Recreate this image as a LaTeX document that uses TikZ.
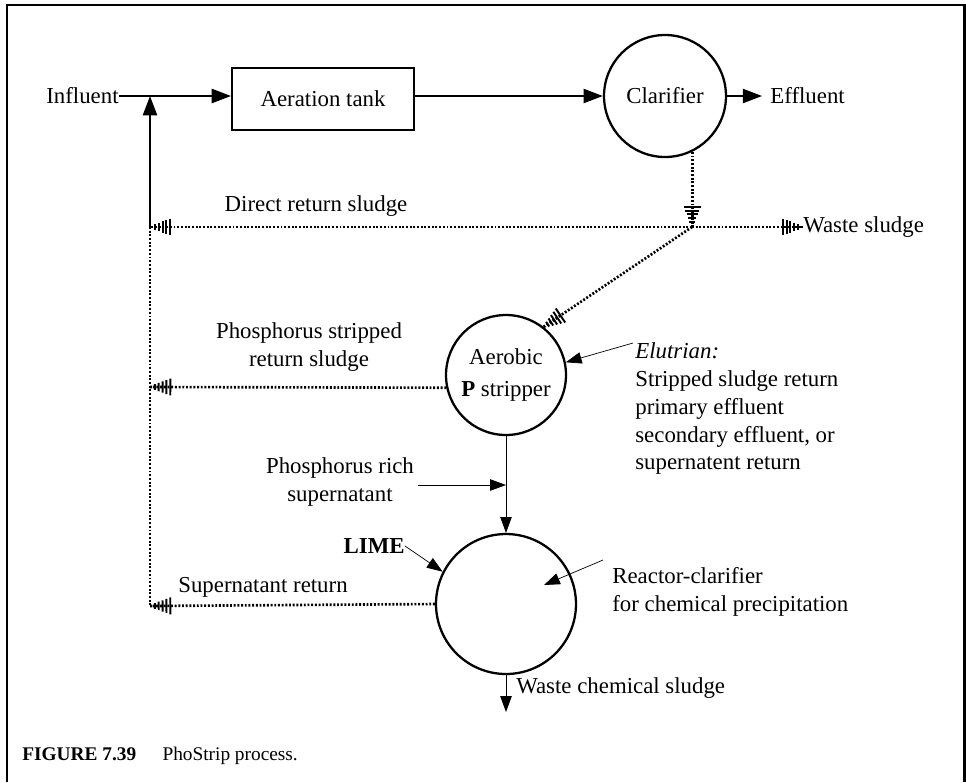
\documentclass[tikz,border=0pt]{standalone}
\usepackage{fontspec}
\setmainfont{Liberation Serif}
\usetikzlibrary{arrows.meta, positioning}

\begin{document}
\begin{tikzpicture}[
  x=0.02cm, y=-0.02cm,
  lbl/.style={font=\fontsize{13}{15.9}\selectfont, inner sep=0pt},
  tank/.style={draw, line width=1.1pt, minimum width=3.64cm, minimum height=1.24cm,
    font=\fontsize{13}{15.9}\selectfont},
  vessel/.style={draw, circle, line width=1.3pt, inner sep=0pt,
    font=\fontsize{13}{15.9}\selectfont},
  flow/.style={line width=1.3pt, -{Triangle[length=11pt,width=8pt]}},
  pointer/.style={line width=0.4pt, -{Triangle[length=9pt,width=6.5pt]}},
  sludge/.style={line width=1.5pt, dash pattern=on 1.1pt off 1pt},
  hatch/.style={-{Bar[width=9.6pt,line width=1.1pt,sep=1.1pt]
    Bar[width=8pt,line width=1.1pt,sep=1.1pt]
    Bar[width=6.4pt,line width=1.1pt,sep=1.1pt]
    Bar[width=4.8pt,line width=1.1pt,sep=1.1pt]
    Bar[width=3.2pt,line width=1.1pt,sep=1.1pt]
    Bar[width=1.6pt,line width=1.1pt,sep=0pt]}},
  frame/.style={line width=1.7pt},
]
\useasboundingbox (0,0) rectangle (966,782);

% open frame
\draw[frame] (7,782) -- (7,5) -- (964,5) -- (964,782);

% main line
\node[lbl, anchor=east] (influent) at (119,96) {Influent};
\node[tank] (aer) at (323,99) {Aeration tank};
\node[vessel, minimum size=2.44cm] (clar) at (665,96) {Clarifier};
\node[lbl, anchor=west] (eff) at (770,96) {Effluent};
\coordinate (jin) at (150,96);

% return sludge junctions
\coordinate (jret) at (150,227);
\coordinate (jstr) at (150,387);
\coordinate (jsup) at (150,606);
\coordinate (jw) at (692,227);
\node[lbl, anchor=west] (waste) at (803,227) {Waste sludge};
\node[lbl] (direct) at (316,206) {Direct return sludge};

% stripper
\node[vessel, minimum size=2.4cm, align=center] (strip) at (506,375) {Aerobic\\[2pt]\textbf{P} stripper};
\node[lbl, align=center] (pstrip) at (309,347) {Phosphorus stripped\\return sludge};
\node[lbl, align=left, anchor=north west] (elu) at (635,342)
  {\textit{Elutrian:}\\Stripped sludge return\\primary effluent\\secondary effluent, or\\supernatent return};
\coordinate (elutail) at (633,343);
\node[lbl, align=center] (prich) at (340,482) {Phosphorus rich\\supernatant};
\coordinate (prtail) at (418,485);

% reactor-clarifier
\node[vessel, minimum size=2.8cm] (reac) at (506,604) {};
\node[lbl, anchor=east] (lime) at (405,546) {\textbf{LIME}};
\node[lbl, align=left, anchor=north west] (rcl) at (612,567) {Reactor-clarifier\\for chemical precipitation};
\coordinate (rctail) at (603,560);
\node[lbl] (suprt) at (263,587) {Supernatant return};
\coordinate (wcs) at (506,712);
\node[lbl, anchor=west] (wcslbl) at (516,688) {Waste chemical sludge};

% caption
\node[anchor=west, inner sep=0pt, font=\fontsize{11}{13}\selectfont] (cap) at (22,756)
  {\textbf{FIGURE 7.39}\hspace{15pt}PhoStrip process.};

% solid flows
\draw[flow] (influent.east) -- (aer.west |- influent.east);
\draw[flow] (aer.east |- clar.west) -- (clar.west);
\draw[flow] (clar.east) -- ([xshift=-4.5pt]eff.west);
\draw[flow] (jret) -- (jin);

% sludge lines
\draw[sludge, hatch] (clar.-64) -- (clar.-64 |- jw);
\draw[sludge, hatch] (jw) -- (waste.west);
\draw[sludge, hatch] (jw) -- (jret);
\draw[sludge, hatch] (jw) -- (strip.52);
\draw[sludge, hatch] (strip.192) -- (jstr);
\draw[sludge, hatch] (reac.west) -- (jsup);
\draw[sludge] (jret) -- (jsup);

% thin pointers
\draw[pointer] (elutail) -- (strip.12);
\draw[pointer] (strip.south) -- (reac.north);
\draw[pointer] (prtail) -- (prtail -| strip.south);
\draw[pointer] (lime.east) -- (reac.153);
\draw[pointer] (rctail) -- ([shift={(38,-19)}]reac.center);
\draw[pointer] (reac.south) -- (wcs);

\end{tikzpicture}
\end{document}
